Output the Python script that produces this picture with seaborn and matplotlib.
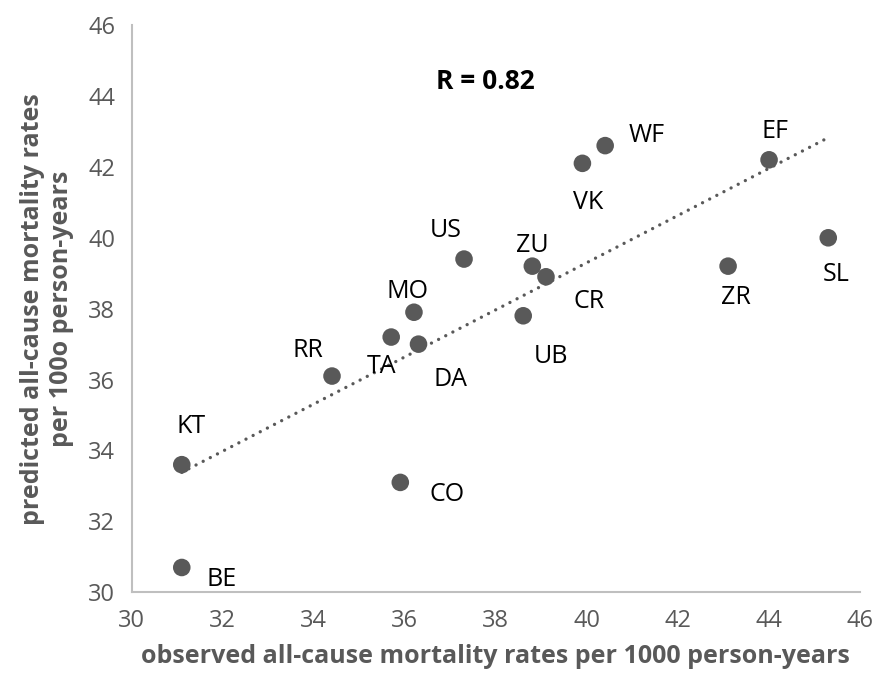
import numpy as np
import pandas as pd
import seaborn as sns
import matplotlib.pyplot as plt

# Data
# ===================================================
codes = ['BE', 'KT', 'RR', 'CO', 'TA', 'DA', 'MO', 'US', 'UB', 'ZU', 'CR',
         'VK', 'WF', 'ZR', 'EF', 'SL']
observed = [31.1, 31.1, 34.4, 35.9, 35.7, 36.3, 36.2, 37.3, 38.6, 38.8, 39.1,
            39.9, 40.4, 43.1, 44.0, 45.3]
predicted = [30.7, 33.6, 36.1, 33.1, 37.2, 37.0, 37.9, 39.4, 37.8, 39.2, 38.9,
             42.1, 42.6, 39.2, 42.2, 40.0]
x_ticks = [30, 32, 34, 36, 38, 40, 42, 44, 46]
y_ticks = [30, 32, 34, 36, 38, 40, 42, 44, 46]

df = pd.DataFrame({'code': codes, 'observed': observed, 'predicted': predicted})

# label offsets in pixels (dx, dy up)
offsets = {
    'BE': (40, -12), 'KT': (9, 38), 'RR': (-24, 26), 'CO': (47, -12),
    'TA': (-10, -29), 'DA': (32, -35), 'MO': (-6, 21), 'US': (-18, 29),
    'UB': (28, -41), 'ZU': (0, 21), 'CR': (43, -25), 'VK': (6, -39),
    'WF': (42, 10), 'ZR': (8, -31), 'EF': (6, 28), 'SL': (8, -37),
}

# Visualization
# ===================================================
sns.set_style('white')
plt.rcParams['font.family'] = ['Open Sans', 'DejaVu Sans']

grey = '#595959'
fig = plt.figure(figsize=(8.75, 6.78), dpi=100)
ax = fig.add_axes([0.1505, 0.1264, 0.8325, 0.8366])

# Trend line
sns.regplot(data=df, x='observed', y='predicted', ci=None, scatter=False, ax=ax,
            line_kws={'color': grey, 'linewidth': 2.4, 'linestyle': (0, (0.01, 2.4)),
                      'dash_capstyle': 'round'})

# Points
sns.scatterplot(data=df, x='observed', y='predicted', s=160, color=grey,
                edgecolor='none', ax=ax, zorder=3)

# Point labels
for _, row in df.iterrows():
    dx, dy = offsets[row['code']]
    ax.annotate(row['code'], (row['observed'], row['predicted']),
                xytext=(dx, dy), textcoords='offset pixels',
                ha='center', va='center', fontsize=18, color='black')

# R value
ax.text(37.77, 44.42, 'R = 0.82', fontsize=19, fontweight='bold',
        ha='center', va='center', color='black')

# Axes style
ax.set_xlim(30, 46)
ax.set_ylim(30, 46)
ax.set_xticks(x_ticks)
ax.set_yticks(y_ticks)
for side in ['top', 'right']:
    ax.spines[side].set_visible(False)
for side in ['left', 'bottom']:
    ax.spines[side].set_color('#bfbfbf')
    ax.spines[side].set_linewidth(1.5)
ax.tick_params(axis='both', direction='out', length=5, width=1.2, color='#bfbfbf',
               labelsize=17, labelcolor=grey, pad=7)
ax.set_xlabel('observed all-cause mortality rates per 1000 person-years',
              fontsize=18, fontweight='bold', color=grey, labelpad=8)
ax.set_ylabel('predicted all-cause mortality rates\nper 100o person-years',
              fontsize=18, fontweight='bold', color=grey, labelpad=10)

plt.savefig('out.png', dpi=100)
